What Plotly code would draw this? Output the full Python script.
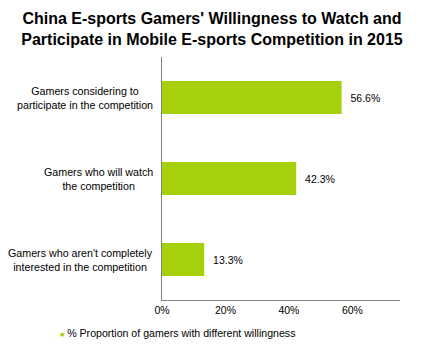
import plotly.graph_objects as go

categories = [
    "Gamers who aren't completely<br>interested in the competition",
    "Gamers who will watch<br>the competition",
    "Gamers considering to<br>participate in the competition",
]
values = [13.3, 42.3, 56.6]
series_name = "% Proportion of gamers with different willingness"
tick_vals = [0, 20, 40, 60]
tick_text = ["0%", "20%", "40%", "60%"]
title_text = "China E-sports Gamers' Willingness to Watch and<br>Participate in Mobile E-sports Competition in 2015"

FONT = "Liberation Sans, Arial, sans-serif"
GREEN = "#a5d10a"

# page body adds an 8px margin; size the figure to fit the window
W, H = 431, 349
L, R, T, B = 154, 39, 49, 57
plot_w = W - L - R

fig = go.Figure()
fig.add_trace(go.Bar(
    y=categories, x=values, orientation="h",
    name=series_name,
    marker=dict(color=GREEN, line=dict(width=0)),
    text=[f"{v:.1f}%" for v in values],
    texttemplate="  %{text}",
    textposition="outside",
    textfont=dict(family=FONT, size=10.5, color="#000000"),
    cliponaxis=False,
    showlegend=False,
))

# centered multi-line category labels
for c in categories:
    fig.add_annotation(
        x=0, xref="paper", y=c, yref="y",
        text=c, showarrow=False, xanchor="right", yanchor="middle",
        align="center", xshift=-7,
        font=dict(family=FONT, size=10.7, color="#000000"),
    )

# legend (small square marker + series name)
fig.add_annotation(
    x=(50 - L) / plot_w, xref="paper", y=-0.135, yref="paper",
    text=f"<span style='color:{GREEN};font-size:7px'>■</span> {series_name}",
    showarrow=False, xanchor="left", yanchor="middle",
    font=dict(family=FONT, size=10.6, color="#000000"),
)

fig.update_layout(
    width=W, height=H,
    margin=dict(l=L, r=R, t=T, b=B, autoexpand=False),
    paper_bgcolor="white", plot_bgcolor="white",
    bargap=0.59,
    showlegend=False,
    title=dict(
        text=title_text, x=204 / W, xref="container", xanchor="center",
        y=1 - 16 / H, yanchor="top",
        font=dict(family=FONT, size=16, color="#000000", weight="bold"),
    ),
    xaxis=dict(
        range=[0, 75], tickvals=tick_vals, ticktext=tick_text,
        showgrid=False, zeroline=False,
        showline=True, linecolor="#808080", linewidth=1.3,
        ticks="", ticklen=0,
        tickfont=dict(family=FONT, size=10.5, color="#000000"),
    ),
    yaxis=dict(
        showticklabels=False, showgrid=False, zeroline=False,
        showline=True, linecolor="#808080", linewidth=1.3, ticks="",
        categoryorder="array", categoryarray=categories,
    ),
)

fig.write_html("out.html")
